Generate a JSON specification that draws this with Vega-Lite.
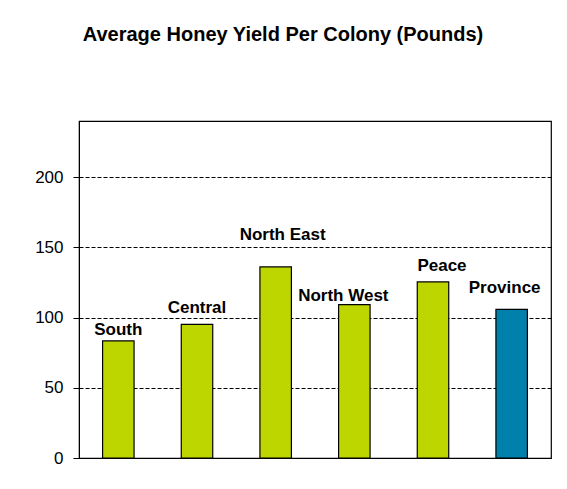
{
  "$schema": "https://vega.github.io/schema/vega-lite/v6.json",
  "autosize": "none",
  "width": 472,
  "height": 337,
  "padding": {"left": 79, "top": 121, "right": 16, "bottom": 31},
  "background": "white",
  "title": {
    "text": "Average Honey Yield Per Colony (Pounds)",
    "font": "Liberation Sans",
    "fontSize": 20,
    "fontWeight": "bold",
    "color": "black",
    "anchor": "middle",
    "frame": "group",
    "dx": -32,
    "offset": 60,
    "baseline": "alphabetic"
  },
  "data": {
    "values": [
      {"region": "South", "value": 83.4, "type": "Region"},
      {"region": "Central", "value": 95.1, "type": "Region"},
      {"region": "North East", "value": 136.1, "type": "Region"},
      {"region": "North West", "value": 109.2, "type": "Region"},
      {"region": "Peace", "value": 125.4, "type": "Region"},
      {"region": "Province", "value": 105.8, "type": "Province"}
    ]
  },
  "encoding": {
    "x": {
      "field": "region",
      "type": "nominal",
      "sort": null,
      "scale": {"paddingInner": 0.6, "paddingOuter": 0.3},
      "axis": null
    },
    "y": {
      "field": "value",
      "type": "quantitative",
      "scale": {"domain": [0, 240], "nice": false, "zero": true},
      "axis": {
        "values": [0, 50, 100, 150, 200],
        "title": null,
        "labelFont": "Liberation Sans",
        "labelFontSize": 17,
        "labelColor": "black",
        "labelPadding": 10,
        "tickColor": "black",
        "tickSize": 6,
        "domainColor": "black",
        "grid": true,
        "gridColor": "black",
        "gridDash": [4, 2],
        "gridWidth": 1
      }
    }
  },
  "layer": [
    {
      "mark": {"type": "bar", "stroke": "black", "strokeWidth": 1.2},
      "encoding": {
        "color": {
          "field": "type",
          "type": "nominal",
          "scale": {"domain": ["Region", "Province"], "range": ["#BED600", "#0080AA"]},
          "legend": null
        }
      }
    },
    {
      "transform": [{"filter": "datum.region === 'South'"}],
      "mark": {"type": "text", "font": "Liberation Sans", "fontSize": 17, "fontWeight": "bold", "color": "black", "baseline": "middle", "dx": 0, "dy": -11},
      "encoding": {"text": {"field": "region"}}
    },
    {
      "transform": [{"filter": "datum.region === 'Central'"}],
      "mark": {"type": "text", "font": "Liberation Sans", "fontSize": 17, "fontWeight": "bold", "color": "black", "baseline": "middle", "dx": 0, "dy": -16},
      "encoding": {"text": {"field": "region"}}
    },
    {
      "transform": [{"filter": "datum.region === 'North East'"}],
      "mark": {"type": "text", "font": "Liberation Sans", "fontSize": 17, "fontWeight": "bold", "color": "black", "baseline": "middle", "dx": 7, "dy": -32},
      "encoding": {"text": {"field": "region"}}
    },
    {
      "transform": [{"filter": "datum.region === 'North West'"}],
      "mark": {"type": "text", "font": "Liberation Sans", "fontSize": 17, "fontWeight": "bold", "color": "black", "baseline": "middle", "dx": -11, "dy": -9},
      "encoding": {"text": {"field": "region"}}
    },
    {
      "transform": [{"filter": "datum.region === 'Peace'"}],
      "mark": {"type": "text", "font": "Liberation Sans", "fontSize": 17, "fontWeight": "bold", "color": "black", "baseline": "middle", "dx": 9, "dy": -16},
      "encoding": {"text": {"field": "region"}}
    },
    {
      "transform": [{"filter": "datum.region === 'Province'"}],
      "mark": {"type": "text", "font": "Liberation Sans", "fontSize": 17, "fontWeight": "bold", "color": "black", "baseline": "middle", "dx": -7, "dy": -21},
      "encoding": {"text": {"field": "region"}}
    }
  ],
  "config": {
    "view": {"stroke": "black", "strokeWidth": 1.2}
  }
}
